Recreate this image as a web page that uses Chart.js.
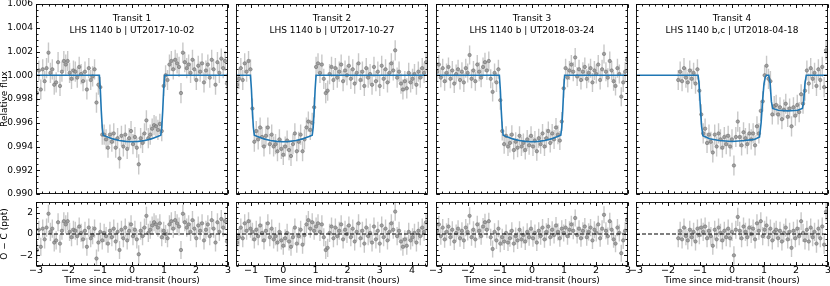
<!DOCTYPE html>
<html>
<head>
<meta charset="utf-8">
<script src="https://cdn.jsdelivr.net/npm/chart.js@4.4.1/dist/chart.umd.min.js"></script>
<style>
  body { margin: 0; background: #fff; width: 830px; height: 286px; overflow: hidden; position: relative; }
  canvas { position: absolute; }
</style>
</head>
<body>
<canvas id="top0"></canvas><canvas id="top1"></canvas><canvas id="top2"></canvas><canvas id="top3"></canvas>
<canvas id="bot0"></canvas><canvas id="bot1"></canvas><canvas id="bot2"></canvas><canvas id="bot3"></canvas>
<script>
// Panel titles
const titles = [`Transit 1`, `Transit 2`, `Transit 3`, `Transit 4`];
const subtitles = [`LHS 1140 b | UT2017-10-02`, `LHS 1140 b | UT2017-10-27`, `LHS 1140 b | UT2018-03-24`, `LHS 1140 b,c | UT2018-04-18`];

// Time since mid-transit (hours)
const xMin = [-3, -1.47, -3, -3];
const xMax = [3, 4.5, 3, 3];

// Axis ticks
const fluxTicks = [0.990, 0.992, 0.994, 0.996, 0.998, 1.000, 1.002, 1.004, 1.006];
const residTicks = [-2, 0, 2];

// Transit 1 : times (h), flux offset (ppt from 1.0), O-C (ppt)
const time1 = [-2.97,-2.91,-2.85,-2.79,-2.73,-2.67,-2.61,-2.55,-2.49,-2.43,-2.37,-2.31,-2.25,-2.19,-2.13,-2.07,-2.01,-1.95,-1.89,-1.83,-1.77,-1.71,-1.65,-1.59,-1.53,-1.47,-1.41,-1.35,-1.29,-1.23,-1.17,-1.11,-1.05,-0.99,-0.93,-0.87,-0.81,-0.75,-0.69,-0.63,-0.57,-0.51,-0.45,-0.39,-0.33,-0.27,-0.21,-0.15,-0.09,-0.03,0.03,0.09,0.15,0.21,0.27,0.33,0.39,0.45,0.51,0.57,0.63,0.69,0.75,0.81,0.87,0.93,0.99,1.05,1.11,1.17,1.23,1.29,1.35,1.41,1.47,1.53,1.59,1.65,1.71,1.77,1.83,1.89,1.95,2.01,2.07,2.13,2.19,2.25,2.31,2.37,2.43,2.49,2.55,2.61,2.67,2.73,2.79,2.85,2.91,2.97];
const flux1 = [-1.5,0.4,-1.2,0.5,-0.5,0.6,1.9,0.2,0.5,-0.8,-0.6,1.1,-0.9,0.3,1.2,0.9,1.2,0.2,-0.3,0.4,0.3,-0.2,0.7,0.1,-0.5,0.3,-1.2,0.6,-0.4,-0.1,0.5,-2.3,-0.8,-1.0,-5.0,-5.0,-5.4,-6.1,-5.0,-5.6,-4.9,-6.1,-5.3,-7.0,-5.1,-6.0,-5.0,-6.2,-5.3,-4.7,-5.8,-5.2,-6.1,-7.5,-5.3,-5.7,-4.9,-3.8,-5.3,-5.0,-4.5,-4.2,-4.3,-4.6,-4.1,-4.7,-0.9,0.0,-0.4,0.9,1.2,0.5,1.3,1.0,0.7,-1.5,1.9,1.1,0.6,0.9,0.2,1.3,0.5,-0.4,0.8,0.3,1.0,-0.6,0.4,0.9,-0.2,1.3,0.5,-0.8,1.1,0.2,1.4,0.6,1.2,-0.7];
const resid1 = [-1.5,0.4,-1.2,0.5,-0.5,0.6,1.9,0.2,0.5,-0.8,-0.6,1.1,-0.9,0.3,1.2,0.9,1.2,0.2,-0.3,0.4,0.3,-0.2,0.7,0.1,-0.5,0.3,-1.2,0.6,-0.4,-0.1,0.5,-2.3,-0.8,0.2,-0.6,0.1,-0.2,-0.9,0.3,-0.3,0.5,-0.7,0.2,-1.5,0.4,-0.4,0.6,-0.6,0.3,0.9,-0.2,0.4,-0.5,-1.9,0.3,-0.2,0.6,1.7,0.1,0.4,0.8,1.1,0.9,0.6,1.0,-0.3,0.3,0.0,-0.4,0.9,1.2,0.5,1.3,1.0,0.7,-1.5,1.9,1.1,0.6,0.9,0.2,1.3,0.5,-0.4,0.8,0.3,1.0,-0.6,0.4,0.9,-0.2,1.3,0.5,-0.8,1.1,0.2,1.4,0.6,1.2,-0.7];

// Transit 2
const time2 = [-1.44,-1.38,-1.32,-1.26,-1.2,-1.14,-1.08,-1.02,-0.96,-0.9,-0.84,-0.78,-0.72,-0.66,-0.6,-0.54,-0.48,-0.42,-0.36,-0.3,-0.24,-0.18,-0.12,-0.06,0,0.06,0.12,0.18,0.24,0.3,0.36,0.42,0.48,0.54,0.6,0.66,0.72,0.78,0.84,0.9,0.96,1.02,1.08,1.14,1.2,1.26,1.32,1.38,1.44,1.5,1.56,1.62,1.68,1.74,1.8,1.86,1.92,1.98,2.04,2.1,2.16,2.22,2.28,2.34,2.4,2.46,2.52,2.58,2.64,2.7,2.76,2.82,2.88,2.94,3,3.06,3.12,3.18,3.24,3.3,3.36,3.42,3.48,3.54,3.6,3.66,3.72,3.78,3.84,3.9,3.96,4.02,4.08,4.14,4.2,4.26,4.32,4.38,4.44];
const flux2 = [-0.8,-0.3,0.6,-0.4,1.0,0.3,1.2,0.5,-2.8,-5.6,-4.7,-5.4,-4.4,-5.2,-6.0,-5.1,-4.4,-5.8,-5.0,-6.0,-5.8,-6.4,-5.4,-6.2,-6.7,-6.0,-5.5,-6.3,-6.8,-5.8,-4.9,-6.4,-5.6,-5.0,-6.4,-5.4,-4.4,-3.9,-4.6,-4.0,-2.7,0.7,1.0,0.2,0.9,-0.3,-1.5,-1.3,0.1,0.7,-0.4,0.6,-0.2,0.3,0.9,-0.5,0.4,0.0,0.8,-0.3,0.5,-0.7,0.2,1.0,-0.4,0.3,-0.9,0.6,-0.2,0.1,-0.8,0.7,-0.5,0.3,-0.9,0.8,-0.3,0.5,-0.6,0.2,1.0,0.4,2.1,-0.2,0.3,-0.7,-1.2,-0.5,-1.1,0.2,-0.6,-0.3,0.1,-0.8,0.3,-0.2,0.6,0.2,1.1];
const resid2 = [-0.8,-0.3,0.6,-0.4,1.0,0.3,1.2,0.5,0.2,-0.5,0.4,-0.2,0.8,0.1,-0.6,0.3,1.0,-0.3,0.5,-0.5,-0.2,-0.8,0.2,-0.6,-1.1,-0.4,0.1,-0.7,-1.2,-0.3,0.6,-0.9,-0.2,0.4,-1.0,-0.1,0.9,1.3,0.5,1.1,0.3,0.7,1.0,0.2,0.9,-0.3,-1.5,-1.3,0.1,0.7,-0.4,0.6,-0.2,0.3,0.9,-0.5,0.4,0.0,0.8,-0.3,0.5,-0.7,0.2,1.0,-0.4,0.3,-0.9,0.6,-0.2,0.1,-0.8,0.7,-0.5,0.3,-0.9,0.8,-0.3,0.5,-0.6,0.2,1.0,0.4,2.1,-0.2,0.3,-0.7,-1.2,-0.5,-1.1,0.2,-0.6,-0.3,0.1,-0.8,0.3,-0.2,0.6,0.2,1.1];

// Transit 3
const time3 = [-2.97,-2.91,-2.85,-2.79,-2.73,-2.67,-2.61,-2.55,-2.49,-2.43,-2.37,-2.31,-2.25,-2.19,-2.13,-2.07,-2.01,-1.95,-1.89,-1.83,-1.77,-1.71,-1.65,-1.59,-1.53,-1.47,-1.41,-1.35,-1.29,-1.23,-1.17,-1.11,-1.05,-0.99,-0.93,-0.87,-0.81,-0.75,-0.69,-0.63,-0.57,-0.51,-0.45,-0.39,-0.33,-0.27,-0.21,-0.15,-0.09,-0.03,0.03,0.09,0.15,0.21,0.27,0.33,0.39,0.45,0.51,0.57,0.63,0.69,0.75,0.81,0.87,0.93,0.99,1.05,1.11,1.17,1.23,1.29,1.35,1.41,1.47,1.53,1.59,1.65,1.71,1.77,1.83,1.89,1.95,2.01,2.07,2.13,2.19,2.25,2.31,2.37,2.43,2.49,2.55,2.61,2.67,2.73,2.79,2.85,2.91,2.97];
const flux3 = [0.3,0.9,-0.2,0.6,-0.5,0.2,0.7,-0.3,0.4,-0.7,0.1,0.5,-0.4,0.3,-0.6,0.6,0.2,1.7,-0.3,0.4,-0.5,0.9,0.3,-0.2,0.7,1.1,0.4,1.2,-0.3,-1.4,0.2,-0.6,0.5,-2.1,-4.7,-5.8,-5.1,-6.0,-5.7,-5.0,-6.3,-5.6,-6.1,-5.1,-6.0,-5.7,-6.3,-5.4,-5.9,-5.1,-6.0,-5.5,-6.4,-5.3,-5.8,-4.9,-6.0,-5.3,-4.7,-5.7,-4.9,-5.4,-4.4,-5.0,-5.5,-3.9,-1.1,0.6,-0.2,0.4,0.9,0.3,1.5,-0.1,0.5,-0.4,0.3,0.7,-0.3,0.2,0.6,-0.6,0.4,0.1,0.9,-0.4,0.5,1.8,0.3,-0.2,1.2,0.4,-0.5,-0.9,0.6,0.1,-1.8,-0.6,0.3,1.3];
const resid3 = [0.3,0.9,-0.2,0.6,-0.5,0.2,0.7,-0.3,0.4,-0.7,0.1,0.5,-0.4,0.3,-0.6,0.6,0.2,1.7,-0.3,0.4,-0.5,0.9,0.3,-0.2,0.7,1.1,0.4,1.2,-0.3,-1.4,0.2,-0.6,0.5,-0.9,-0.3,-0.7,0.1,-0.8,-0.4,0.3,-0.9,-0.2,-0.6,0.4,-0.5,-0.1,-0.7,0.2,-0.3,0.5,-0.4,0.1,-0.8,0.3,-0.2,0.6,-0.5,0.2,0.7,-0.3,0.4,-0.1,0.8,0.2,-0.4,0.5,0.1,0.6,-0.2,0.4,0.9,0.3,1.5,-0.1,0.5,-0.4,0.3,0.7,-0.3,0.2,0.6,-0.6,0.4,0.1,0.9,-0.4,0.5,1.8,0.3,-0.2,1.2,0.4,-0.5,-0.9,0.6,0.1,-1.8,-0.6,0.3,1.3];

// Transit 4
const time4 = [-1.68,-1.62,-1.56,-1.5,-1.44,-1.38,-1.32,-1.26,-1.2,-1.14,-1.08,-1.02,-0.96,-0.9,-0.84,-0.78,-0.72,-0.66,-0.6,-0.54,-0.48,-0.42,-0.36,-0.3,-0.24,-0.18,-0.12,-0.06,0,0.06,0.12,0.18,0.24,0.3,0.36,0.42,0.48,0.54,0.6,0.66,0.72,0.78,0.84,0.9,0.96,1.02,1.08,1.14,1.2,1.26,1.32,1.38,1.44,1.5,1.56,1.62,1.68,1.74,1.8,1.86,1.92,1.98,2.04,2.1,2.16,2.22,2.28,2.34,2.4,2.46,2.52,2.58,2.64,2.7,2.76,2.82,2.88,2.94];
const flux4 = [-0.4,0.3,-0.5,0.6,-0.2,-0.6,0.4,-0.3,0.2,-0.7,0.5,-1.3,-3.3,-4.9,-4.5,-5.7,-5.0,-5.6,-6.5,-5.0,-6.0,-4.9,-5.4,-6.1,-5.2,-5.8,-5.1,-6.0,-5.4,-7.6,-5.2,-3.9,-5.2,-5.9,-4.8,-5.3,-5.8,-4.9,-5.4,-4.9,-5.9,-4.3,-4.9,-3.0,-2.2,0.0,0.8,-0.3,-0.5,-3.3,-2.6,-2.5,-3.3,-2.7,-3.7,-2.9,-2.4,-3.5,-2.8,-4.3,-2.7,-3.4,-2.5,-3.1,-1.6,-2.4,-1.3,0.4,-0.7,0.6,-0.3,0.2,-0.9,0.5,-0.4,0.7,-1.0,2.1];
const resid4 = [-0.4,0.3,-0.5,0.6,-0.2,-0.6,0.4,-0.3,0.2,-0.7,0.5,-0.1,0.6,0.2,0.7,-0.4,0.3,-0.2,-1.1,0.4,-0.5,0.6,0.1,-0.6,0.3,-0.3,0.5,-0.4,0.2,-2.0,0.4,1.6,0.3,-0.4,0.7,0.2,-0.3,0.6,0.0,0.5,-0.5,1.0,0.3,1.2,-0.2,0.4,0.8,-0.3,0.5,-0.6,0.2,0.4,-0.4,0.3,-0.7,0.1,0.6,-0.5,0.2,-1.3,0.3,-0.4,0.5,-0.2,1.2,0.1,-0.6,0.4,-0.7,0.6,-0.3,0.2,-0.9,0.5,-0.4,0.7,-1.0,2.1];

// Error bar half size per transit (ppt)
const errPpt = [0.85, 0.85, 0.8, 0.85];

// Transit models (ppt from 1.0): b alone, then b + c
const modelTimeB = [-3,-1.02,-0.99,-0.96,-0.93,-0.9,-0.8,-0.6,-0.4,-0.2,0,0.2,0.4,0.6,0.8,0.9,0.93,0.96,0.99,1.02,5];
const modelFluxB = [0,0,-1.2,-3.0,-4.4,-5.05,-5.16,-5.36,-5.49,-5.57,-5.6,-5.57,-5.49,-5.36,-5.16,-5.05,-4.4,-3.0,-1.2,0,0];
const modelTimeBC = [-3,-1.06,-1.03,-0.99,-0.95,-0.91,-0.7,-0.4,0,0.4,0.7,0.86,0.91,0.96,1.0,1.04,1.08,1.15,1.19,1.23,1.27,1.45,1.75,2.05,2.2,2.24,2.28,2.32,3];
const modelFluxBC = [0,0,-0.7,-2.6,-4.3,-5.1,-5.35,-5.5,-5.58,-5.5,-5.4,-5.2,-4.0,-2.0,-0.7,-0.15,0,0,-0.6,-2.2,-2.8,-2.95,-3.0,-2.95,-2.8,-2.2,-0.7,0,0];

const times = [time1, time2, time3, time4];
const fluxes = [flux1, flux2, flux3, flux4];
const resids = [resid1, resid2, resid3, resid4];
const modelTimes = [modelTimeB, modelTimeB, modelTimeB, modelTimeBC];
const modelFluxes = [modelFluxB, modelFluxB, modelFluxB, modelFluxBC];

// Layout of the grid (px)
const panelLeft = [36, 236, 436, 636];
const panelWidth = 192;

Chart.defaults.font.family = `DejaVu Sans`;
Chart.defaults.font.size = 9;
Chart.defaults.color = `#000`;

const minus = v => v < 0 ? `\u2212` + Math.abs(v) : String(v);
const toFlux = v => 1 + v / 1000;

// inward ticks on all four sides + box, matplotlib style
const framePlugin = {
  id: `frame`,
  afterDatasetsDraw(chart, args, o) {
    const {ctx, chartArea: a} = chart;
    const x = chart.scales.x, y = chart.scales.y;
    const L = Math.round(a.left) + 0.5, R = Math.round(a.right) - 0.5;
    const T = Math.round(a.top) + 0.5, B = Math.round(a.bottom) - 0.5;
    const each = (scale, step, fn) => {
      const n0 = Math.ceil(scale.min / step - 1e-6), n1 = Math.floor(scale.max / step + 1e-6);
      for (let n = n0; n <= n1; n++) fn(Math.round(scale.getPixelForValue(n * step)) + 0.5);
    };
    ctx.save();
    ctx.strokeStyle = `#000`;
    ctx.lineWidth = 0.9;
    ctx.beginPath();
    [[o.xMinor, 2], [o.xMajor, 3.5]].forEach(([step, len]) => each(x, step, px => {
      ctx.moveTo(px, B); ctx.lineTo(px, B - len);
      ctx.moveTo(px, T); ctx.lineTo(px, T + len);
    }));
    [[o.yMinor, 2], [o.yMajor, 3.5]].forEach(([step, len]) => each(y, step, py => {
      ctx.moveTo(L, py); ctx.lineTo(L + len, py);
      ctx.moveTo(R, py); ctx.lineTo(R - len, py);
    }));
    ctx.stroke();
    ctx.strokeRect(L, T, R - L, B - T);
    ctx.restore();
  }
};

// vertical error bars drawn under the points
const errorBarPlugin = {
  id: `errorBars`,
  beforeDatasetsDraw(chart) {
    const {ctx, chartArea: a} = chart;
    const y = chart.scales.y;
    chart.data.datasets.forEach((ds, i) => {
      if (!ds.errorBar) return;
      const meta = chart.getDatasetMeta(i);
      ctx.save();
      ctx.beginPath();
      ctx.rect(a.left, a.top, a.right - a.left, a.bottom - a.top);
      ctx.clip();
      ctx.strokeStyle = `rgba(190, 190, 190, 0.85)`;
      ctx.lineWidth = 1.4;
      ctx.beginPath();
      meta.data.forEach((pt, j) => {
        const v = ds.data[j].y;
        ctx.moveTo(pt.x, y.getPixelForValue(v - ds.errorBar));
        ctx.lineTo(pt.x, y.getPixelForValue(v + ds.errorBar));
      });
      ctx.stroke();
      ctx.restore();
    });
  }
};

// two line title inside the axes
const titlePlugin = {
  id: `panelTitle`,
  afterDraw(chart, args, o) {
    if (!o.lines) return;
    const {ctx, chartArea: a} = chart;
    ctx.save();
    ctx.font = `${o.size}px DejaVu Sans`;
    ctx.fillStyle = `#000`;
    ctx.textAlign = `center`;
    ctx.textBaseline = `middle`;
    o.lines.forEach((s, i) => ctx.fillText(s, (a.left + a.right) / 2, a.top + o.offset + i * o.spacing));
    ctx.restore();
  }
};

Chart.register(framePlugin, errorBarPlugin, titlePlugin);

const pointStyle = {
  showLine: false,
  pointRadius: 1.7,
  pointBackgroundColor: `rgba(150, 150, 150, 0.85)`,
  pointBorderColor: `rgba(105, 105, 105, 0.9)`,
  pointBorderWidth: 0.6
};

const makeChart = (id, box, config) => {
  const c = document.getElementById(id);
  c.width = box.w;
  c.height = box.h;
  c.style.left = box.x + `px`;
  c.style.top = box.y + `px`;
  return new Chart(c, config);
};

const baseOptions = (padding, plugins, scales) => ({
  responsive: false,
  animation: false,
  devicePixelRatio: 1,
  events: [],
  layout: {padding, autoPadding: false},
  plugins: Object.assign({legend: {display: false}, tooltip: {enabled: false}}, plugins),
  scales
});

const setTicks = list => s => { s.ticks = list.map(v => ({value: v})); };

// y axis title: 9px, centred about 5px from the left edge
const yTitle = text => ({display: true, text, font: {size: 9, lineHeight: 1}, padding: {top: 0.5, bottom: 0}});

for (let i = 0; i < 4; i++) {
  const first = i === 0;
  const leftM = first ? 36 : 2;
  const yWidth = first ? 36 : 0;

  // Top panel : flux
  makeChart(`top${i}`, {x: panelLeft[i] - leftM, y: 0, w: leftM + panelWidth + 2, h: 196}, {
    type: `scatter`,
    data: {
      datasets: [
        {
          data: modelTimes[i].map((t, j) => ({x: t, y: toFlux(modelFluxes[i][j])})),
          showLine: true, borderColor: `#1f77b4`, borderWidth: 1.6, pointRadius: 0, tension: 0
        },
        Object.assign({
          data: times[i].map((t, j) => ({x: t, y: toFlux(fluxes[i][j])})),
          errorBar: errPpt[i] / 1000
        }, pointStyle)
      ]
    },
    options: baseOptions(
      {left: first ? 0 : 2, right: 2, top: 4, bottom: 2},
      {
        frame: {xMajor: 1, xMinor: 0.2, yMajor: 0.002, yMinor: 0.0005},
        panelTitle: {lines: [titles[i], subtitles[i]], size: 9, offset: 15, spacing: 11.5}
      },
      {
        x: {type: `linear`, min: xMin[i], max: xMax[i], display: false, grid: {display: false, drawTicks: false},
            afterFit: s => { s.height = 0; }},
        y: {
          type: `linear`, min: 0.990, max: 1.006, display: first,
          grid: {display: false, drawTicks: false}, border: {display: false},
          afterBuildTicks: setTicks(fluxTicks),
          ticks: {padding: 3, font: {size: 9}, callback: v => v.toFixed(3)},
          title: yTitle(`Relative flux`),
          afterFit: s => { s.width = yWidth; s.paddingTop = 0; s.paddingBottom = 0; }
        }
      }
    )
  });

  // Bottom panel : residuals
  const leftB = first ? 36 : 12;
  makeChart(`bot${i}`, {x: panelLeft[i] - leftB, y: 200, w: leftB + panelWidth + 6, h: 86}, {
    type: `scatter`,
    data: {
      datasets: [
        {
          data: [{x: xMin[i], y: 0}, {x: xMax[i], y: 0}],
          showLine: true, borderColor: `#000`, borderWidth: 1.1, borderDash: [4, 2], pointRadius: 0
        },
        Object.assign({
          data: times[i].map((t, j) => ({x: t, y: resids[i][j]})),
          errorBar: errPpt[i]
        }, pointStyle)
      ]
    },
    options: baseOptions(
      {left: first ? 0 : 12, right: 6, top: 2, bottom: 0},
      {frame: {xMajor: 1, xMinor: 0.2, yMajor: 2, yMinor: 0.5}},
      {
        x: {
          type: `linear`, min: xMin[i], max: xMax[i],
          grid: {display: false, drawTicks: false}, border: {display: false},
          ticks: {stepSize: 1, includeBounds: false, padding: 0, maxRotation: 0, minRotation: 0,
                  font: {size: 9.5, lineHeight: 1}, callback: minus},
          title: {display: true, text: `Time since mid-transit (hours)`, font: {size: 9}, padding: {top: 0, bottom: 0}},
          afterFit: s => { s.height = 20; s.paddingLeft = 0; s.paddingRight = 0; }
        },
        y: {
          type: `linear`, min: -3, max: 3, display: first,
          grid: {display: false, drawTicks: false}, border: {display: false},
          afterBuildTicks: setTicks(residTicks),
          ticks: {padding: 3, font: {size: 9}, callback: minus},
          title: yTitle(`O \u2212 C (ppt)`),
          afterFit: s => { s.width = yWidth; s.paddingTop = 0; s.paddingBottom = 0; }
        }
      }
    )
  });
}
</script>
</body>
</html>
